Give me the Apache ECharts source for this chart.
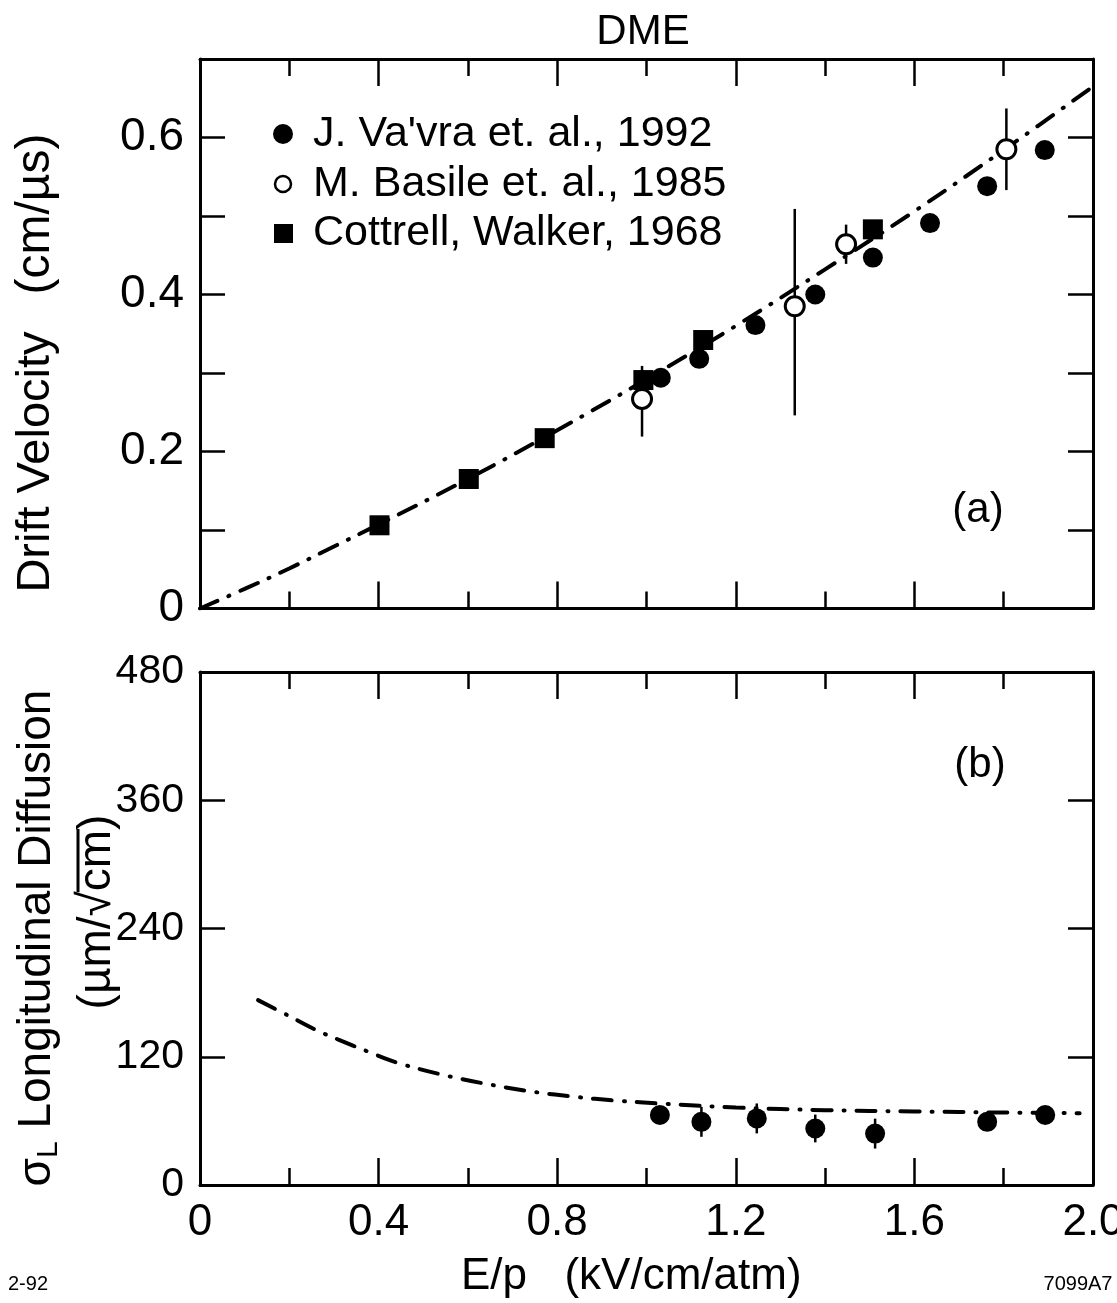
<!DOCTYPE html>
<html>
<head>
<meta charset="utf-8">
<script src="https://cdn.jsdelivr.net/npm/echarts@6/dist/echarts.min.js"></script>
<style>
  html, body { margin: 0; padding: 0; background: #fff; }
  #chart { width: 1117px; height: 1303px; }
</style>
</head>
<body>
<div id="chart"></div>
<script>
// ---- Panel (a): drift velocity (cm/µs) against E/p (kV/cm/atm) ----
const vavraEp  = [1.032, 1.118, 1.244, 1.378, 1.507, 1.635, 1.763, 1.892];
const vavraVel = [0.294, 0.318, 0.361, 0.400, 0.447, 0.491, 0.538, 0.584];

const basileEp      = [0.990, 1.332, 1.447, 1.806];
const basileVel     = [0.267, 0.385, 0.464, 0.585];
const basileErrLow  = [0.048, 0.139, 0.025, 0.052];
const basileErrHigh = [0.042, 0.124, 0.025, 0.052];

const cottrellEp  = [0.402, 0.602, 0.772, 0.993, 1.127, 1.507];
const cottrellVel = [0.106, 0.165, 0.217, 0.291, 0.342, 0.483];

// dash-dot curve through the velocity data
const velCurveEp  = [0, 0.1, 0.2, 0.3, 0.4, 0.6, 0.8, 1.0, 1.2, 1.4, 1.6, 1.8, 2.0];
const velCurveVel = [0, 0.025, 0.051, 0.079, 0.107, 0.165, 0.227, 0.292, 0.360, 0.432, 0.506, 0.584, 0.665];

// ---- Panel (b): longitudinal diffusion σL (µm/√cm) ----
const diffEp    = [1.030, 1.123, 1.247, 1.378, 1.512, 1.763, 1.893];
const diffSigma = [65.5, 59.1, 62.3, 52.9, 48.1, 59.1, 65.5];
const diffErr   = [8, 14, 14, 13, 14, 8, 6];

const diffCurveEp    = [0.13, 0.2, 0.26, 0.31, 0.375, 0.445, 0.555, 0.655, 0.75, 0.84, 0.93, 1.04, 1.2, 1.4, 1.6, 1.8, 1.97];
const diffCurveSigma = [173, 158, 145, 136, 125, 114, 102, 93.5, 87, 82.5, 79, 76, 72.5, 70, 68.8, 67.8, 67.2];

// ---- tick labels ----
const epTickLabels    = ['0', '0.4', '0.8', '1.2', '1.6', '2.0'];          // every 0.4
const velTickLabels   = ['0', '', '0.2', '', '0.4', '', '0.6', ''];        // every 0.1
const sigmaTickLabels = ['0', '120', '240', '360', '480'];                 // every 120

const seriesNames = ["J. Va'vra et. al., 1992", 'M. Basile et. al., 1985', 'Cottrell, Walker, 1968'];

const FONT = '"Liberation Sans", Arial, Helvetica, sans-serif';
const INK = '#000';

const zip = (xs, ys) => xs.map((x, i) => [x, ys[i]]);

const measureCtx = document.createElement('canvas').getContext('2d');
function textWidth(str, size) {
  measureCtx.font = size + 'px ' + FONT;
  return measureCtx.measureText(str).width;
}

function xAxisDef(gridIndex, position, withLabels) {
  return {
    type: 'value', gridIndex, position, min: 0, max: 2, interval: 0.4,
    axisLine: { onZero: false, lineStyle: { color: INK, width: 3 } },
    axisTick: { inside: true, length: 27, lineStyle: { color: INK, width: 2.5 } },
    minorTick: { show: true, splitNumber: 2, length: 17, lineStyle: { color: INK, width: 2.5 } },
    splitLine: { show: false }, minorSplitLine: { show: false },
    axisLabel: {
      show: withLabels, margin: 16, fontSize: 44, fontFamily: FONT, color: INK,
      formatter: v => epTickLabels[Math.round(v / 0.4)] ?? ''
    }
  };
}

function yAxisDef(gridIndex, position, max, interval, labels, fontSize) {
  return {
    type: 'value', gridIndex, position, min: 0, max, interval,
    axisLine: { onZero: false, lineStyle: { color: INK, width: 3 } },
    axisTick: { inside: true, length: 25, lineStyle: { color: INK, width: 2.5 } },
    splitLine: { show: false },
    axisLabel: {
      show: !!labels, margin: 16, fontSize: fontSize || 42, fontFamily: FONT, color: INK,
      formatter: v => labels ? (labels[Math.round(v / interval)] ?? '') : ''
    }
  };
}

function errorBars(xi, yi, xs, ys, lo, hi) {
  return {
    type: 'custom', xAxisIndex: xi, yAxisIndex: yi, z: 2, silent: true,
    data: xs.map((x, i) => [x, ys[i] - lo[i], ys[i] + hi[i]]),
    encode: { x: 0, y: [1, 2] },
    renderItem: (params, api) => {
      const a = api.coord([api.value(0), api.value(1)]);
      const b = api.coord([api.value(0), api.value(2)]);
      return {
        type: 'line',
        shape: { x1: a[0], y1: a[1], x2: b[0], y2: b[1] },
        style: { stroke: INK, lineWidth: 2.5 }
      };
    }
  };
}

const dashDot = { color: INK, width: 4, type: [19, 12, 1, 12], cap: 'round', opacity: 1 };

function fitLine(xi, yi, data) {
  return {
    type: 'line', xAxisIndex: xi, yAxisIndex: yi, data, z: 1, silent: true,
    showSymbol: false, smooth: 0.35, lineStyle: dashDot
  };
}

function scatter(name, xi, yi, data, symbol, hollow) {
  return {
    type: 'scatter', name, xAxisIndex: xi, yAxisIndex: yi, data, z: 3, silent: true,
    symbol, symbolSize: hollow ? 19 : 20,
    itemStyle: hollow
      ? { color: '#fff', borderColor: INK, borderWidth: 3, opacity: 1 }
      : { color: INK, opacity: 1 }
  };
}

// text laid out along a vertical line, read bottom to top
function verticalText(cx, cy, pieces) {
  let total = 0;
  pieces.forEach(p => { p.w = textWidth(p.text, p.size); total += p.w; });
  let pos = -total / 2;
  const children = [];
  pieces.forEach(p => {
    children.push({
      type: 'text', x: pos, y: p.dy || 0,
      style: { text: p.text, fontSize: p.size, fontFamily: FONT, fill: INK, align: 'left', verticalAlign: 'middle' }
    });
    if (p.overline !== undefined) {
      children.push({
        type: 'line',
        shape: { x1: pos - 1, y1: p.overline, x2: pos + p.w + 1, y2: p.overline },
        style: { stroke: INK, lineWidth: 3 }
      });
    }
    pos += p.w;
  });
  return { type: 'group', x: cx, y: cy, rotation: Math.PI / 2, children };
}

function label(text, x, y, size, align) {
  return {
    type: 'text', x, y,
    style: { text, fontSize: size, fontFamily: FONT, fill: INK, align: align || 'center', verticalAlign: 'middle' }
  };
}

// legend rows drawn inside panel (a)
const legendRows = [134, 184, 233];
const legendGraphics = [];
seriesNames.forEach((name, i) => {
  const y = legendRows[i];
  if (i === 0) legendGraphics.push({ type: 'circle', shape: { cx: 283, cy: y, r: 10 }, style: { fill: INK } });
  if (i === 1) legendGraphics.push({ type: 'circle', shape: { cx: 283, cy: y, r: 8 }, style: { fill: '#fff', stroke: INK, lineWidth: 2.5 } });
  if (i === 2) legendGraphics.push({ type: 'rect', shape: { x: 274, y: y - 9, width: 19, height: 19 }, style: { fill: INK } });
  legendGraphics.push(label(name, 313, y, 43, 'left'));
});

const chart = echarts.init(document.getElementById('chart'), null, { renderer: 'canvas' });

chart.setOption({
  animation: false,
  backgroundColor: '#fff',
  grid: [
    { left: 200, right: 24, top: 59, bottom: 694.5, outerBoundsMode: 'none' },
    { left: 200, right: 24, top: 672, bottom: 118, outerBoundsMode: 'none' }
  ],
  xAxis: [
    xAxisDef(0, 'bottom', false),
    xAxisDef(0, 'top', false),
    xAxisDef(1, 'bottom', true),
    xAxisDef(1, 'top', false)
  ],
  yAxis: [
    yAxisDef(0, 'left', 0.7, 0.1, velTickLabels, 46),
    yAxisDef(0, 'right', 0.7, 0.1, null),
    yAxisDef(1, 'left', 480, 120, sigmaTickLabels, 41),
    yAxisDef(1, 'right', 480, 120, null)
  ],
  series: [
    fitLine(0, 0, zip(velCurveEp, velCurveVel)),
    errorBars(0, 0, basileEp, basileVel, basileErrLow, basileErrHigh),
    scatter(seriesNames[2], 0, 0, zip(cottrellEp, cottrellVel), 'rect', false),
    scatter(seriesNames[0], 0, 0, zip(vavraEp, vavraVel), 'circle', false),
    scatter(seriesNames[1], 0, 0, zip(basileEp, basileVel), 'circle', true),

    fitLine(2, 2, zip(diffCurveEp, diffCurveSigma)),
    errorBars(2, 2, diffEp, diffSigma, diffErr, diffErr),
    scatter(seriesNames[0], 2, 2, zip(diffEp, diffSigma), 'circle', false)
  ],
  graphic: [
    label('DME', 643, 32, 42),
    label('(a)', 978, 510, 42),
    label('(b)', 980, 765, 42),
    label('E/p', 494, 1277, 44),
    label('(kV/cm/atm)', 683, 1277, 44),
    label('2-92', 28, 1284, 20),
    label('7099A7', 1078, 1284, 20),
    verticalText(36, 462, [{ text: 'Drift Velocity', size: 47 }]),
    verticalText(36, 214, [{ text: '(cm/µs)', size: 48 }]),
    verticalText(37, 938, [
      { text: 'σ', size: 46 },
      { text: 'L', size: 30, dy: 12 },
      { text: ' Longitudinal Diffusion', size: 46 }
    ]),
    verticalText(97, 912, [
      { text: '(µm/', size: 46 },
      { text: '√', size: 46 },
      { text: 'cm', size: 46, overline: -19 },
      { text: ')', size: 46 }
    ]),
    ...legendGraphics
  ]
});
</script>
</body>
</html>
